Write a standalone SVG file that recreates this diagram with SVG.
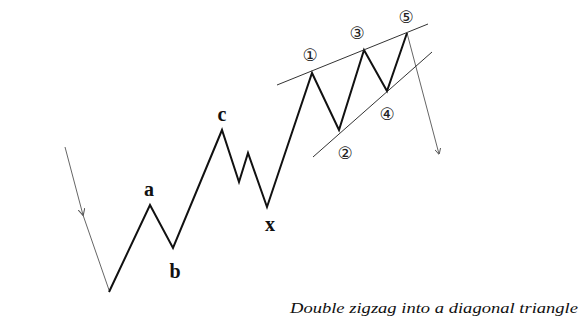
<svg xmlns="http://www.w3.org/2000/svg" width="586" height="329" viewBox="0 0 586 329">
<defs>
<marker id="ah" viewBox="0 0 10 10" refX="9" refY="5" markerWidth="6" markerHeight="6" orient="auto" markerUnits="userSpaceOnUse">
<path d="M0,0 L10,5 L0,10" fill="none" stroke="#555" stroke-width="1.5"/>
</marker>
<marker id="mh" viewBox="0 0 10 10" refX="9" refY="5" markerWidth="7" markerHeight="7" orient="auto" markerUnits="userSpaceOnUse">
<path d="M0,0 L10,5 L0,10" fill="none" stroke="#555" stroke-width="1.5"/>
</marker>
</defs>
<style>
.wave{fill:none;stroke:#111;stroke-width:2;stroke-linejoin:miter}
.thin{fill:none;stroke:#333;stroke-width:1}
.arrow{fill:none;stroke:#666;stroke-width:1}
.lbl{font-family:"Liberation Serif",serif;font-weight:bold;font-size:20px;fill:#111;text-anchor:middle}
.num{font-family:"DejaVu Sans",sans-serif;font-size:17px;fill:#222;text-anchor:middle}
.cap{font-family:"Liberation Serif","DejaVu Serif",serif;font-style:italic;font-size:15px;fill:#111}
</style>
<rect width="586" height="329" fill="#fff"/>
<g id="connectors">
<path class="arrow" d="M65,147 L83,215" marker-end="url(#mh)"/>
<path class="arrow" d="M83,215 L109,290"/>
<path class="arrow" d="M407,33 L439,154" marker-end="url(#ah)"/>
<path class="wave" d="M109,292 L150,205 L173,248 L222,130 L239,182 L248,153 L267,207 L312,73 L339,130 L364,50 L387,91 L407,33"/>
<path class="thin" d="M277,85 L428,24"/>
<path class="thin" d="M313,157 L432,52"/>
</g>
<g id="label-a"><text class="lbl" x="149" y="196">a</text></g>
<g id="label-b"><text class="lbl" x="175" y="278">b</text></g>
<g id="label-c"><text class="lbl" x="222" y="121">c</text></g>
<g id="label-x"><text class="lbl" x="270" y="231">x</text></g>
<g id="label-1"><text class="num" x="310" y="61">①</text></g>
<g id="label-2"><text class="num" x="345" y="159">②</text></g>
<g id="label-3"><text class="num" x="357" y="39">③</text></g>
<g id="label-4"><text class="num" x="387" y="120">④</text></g>
<g id="label-5"><text class="num" x="406" y="23">⑤</text></g>
<g id="caption"><text class="cap" x="290" y="313" textLength="288" lengthAdjust="spacingAndGlyphs">Double zigzag into a diagonal triangle</text></g>
</svg>
